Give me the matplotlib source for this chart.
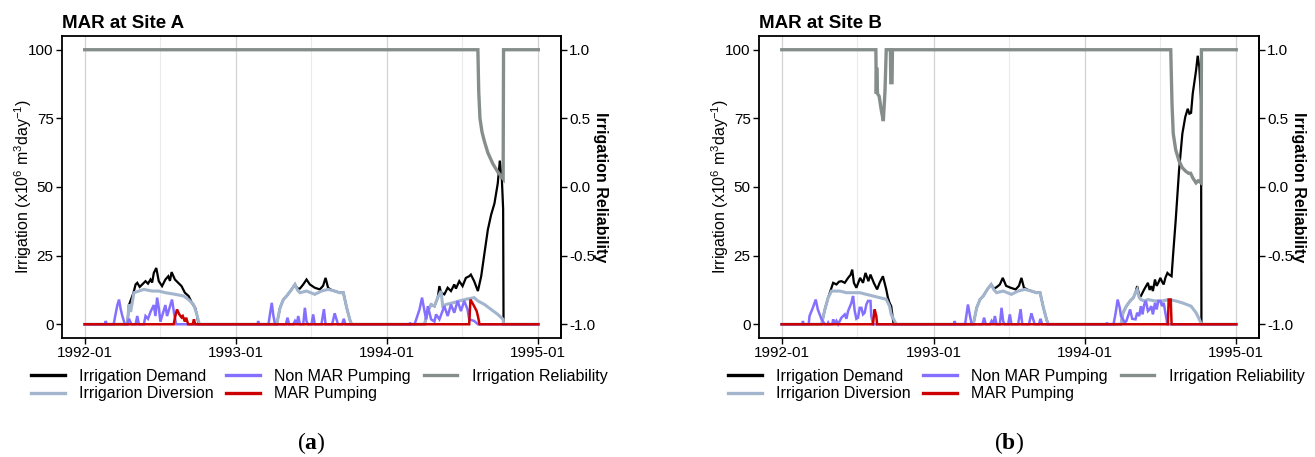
import numpy as np
import pandas as pd
import matplotlib
matplotlib.use('Agg')
import matplotlib.pyplot as plt
import matplotlib.dates as mdates
from matplotlib.lines import Line2D
from matplotlib.ticker import FormatStrFormatter

plt.rcParams['font.family'] = 'Liberation Sans'
plt.rcParams['axes.unicode_minus'] = False
plt.rcParams['mathtext.fontset'] = 'custom'
plt.rcParams['mathtext.rm'] = 'Liberation Sans'
plt.rcParams['mathtext.bf'] = 'Liberation Serif:bold'

# (day since 1992-01-01, value)
# Site A
demand_a = [(0, 0), (103, 0), (107, 7), (118, 11.5), (123, 14.5), (127, 15.1), (133, 13.6), (139, 14.5),
            (147, 15.7), (153, 14.8), (159, 16.3), (163, 15.2), (167, 18.7), (173, 20.5), (179, 15.7),
            (187, 13.9), (195, 16.3), (202, 17.5), (206, 15.8), (210, 19.0), (218, 16.3), (226, 15.1),
            (234, 13.9), (242, 11.5), (251, 10.3), (259, 7.8), (267, 6.0), (271, 3.6), (275, 0),
            (464, 0), (472, 6), (480, 9), (488, 10.3), (500, 12.7), (508, 14.5), (514, 13.0), (520, 13.0),
            (528, 14.5), (536, 16.3), (544, 14.5), (556, 13.3), (568, 12.7), (576, 14.0), (582, 16.9),
            (588, 13.3), (596, 12.5), (604, 12.1), (616, 11.5), (625, 11.5), (633, 6), (641, 1.5), (645, 0),
            (821, 0), (829, 4.8), (837, 7.2), (845, 6.6), (853, 9.7), (857, 13.9), (861, 11.5), (869, 10.9),
            (877, 13.3), (885, 12.1), (893, 14.5), (897, 13.0), (905, 15.7), (913, 13.9), (921, 16.9),
            (929, 17.5), (933, 18.1), (941, 15.7), (950, 12.1), (958, 17.5), (966, 26), (974, 34.4),
            (982, 39.9), (990, 44), (998, 51.3), (1003, 59.6), (1008, 52.6), (1011, 42), (1012, 0), (1096, 0)]
diversion_a = [(0, 0), (103, 0), (107, 7.2), (111, 4.5), (119, 11.5), (131, 12.1), (143, 12.7), (163, 12.1),
               (179, 12.1), (195, 11.5), (219, 10.9), (239, 10.3), (251, 9.0), (263, 7.2), (271, 3.6), (277, 0),
               (464, 0), (472, 6), (480, 9), (488, 10.3), (500, 12.7), (508, 14.5), (514, 12.5), (520, 11.5),
               (536, 12.1), (556, 10.9), (572, 12.1), (588, 12.7), (604, 12.1), (616, 11.5), (625, 11.5),
               (633, 6), (641, 1.5), (645, 0),
               (821, 0), (829, 4.8), (837, 7.2), (845, 6.6), (853, 9.7), (861, 12.1), (865, 6.6), (873, 7.2),
               (889, 7.8), (905, 8.5), (921, 9.1), (941, 9.7), (950, 8.5), (966, 7.2), (982, 5.4), (998, 3.6),
               (1011, 1.8), (1012, 0), (1096, 0)]
nonmar_a = [(0, 0), (49, 0), (51, 1.2), (53, 0), (70, 0), (75, 4), (79, 7), (83, 9), (87, 5.5), (91, 3), (97, 0),
            (103, 0), (107, 2), (113, 0), (123, 0), (127, 3), (131, 0), (143, 0), (147, 3), (153, 2), (159, 4.5),
            (167, 7), (171, 3), (175, 9.7), (179, 6), (183, 1), (187, 3), (195, 7), (199, 3), (205, 6), (211, 9),
            (216, 4), (221, 0),
            (418, 0), (419, 1.2), (421, 0), (444, 0), (448, 4), (452, 7.8), (456, 3), (460, 0), (486, 0),
            (490, 2.4), (494, 0), (504, 0), (508, 1.2), (512, 0), (516, 3), (520, 0), (528, 0), (532, 6),
            (536, 1), (540, 0), (548, 0), (552, 3.6), (556, 0), (572, 0), (578, 5.5), (582, 0), (598, 0),
            (604, 4), (608, 2), (612, 0), (622, 0), (626, 2), (630, 0),
            (785, 0), (786, 0.6), (788, 0), (797, 0), (801, 1.8), (809, 5.4), (815, 9.7), (821, 4.8), (825, 1.8),
            (829, 6.6), (837, 1.8), (845, 1), (849, 3.6), (857, 1.8), (869, 6.6), (877, 3), (885, 7.2),
            (893, 4.2), (901, 8.5), (909, 4.8), (917, 8.5), (925, 5.4), (929, 1.8), (941, 1.2), (950, 0), (1096, 0)]
mar_a = [(0, 0), (215, 0), (219, 3), (223, 5.4), (229, 3.5), (234, 2.5), (237, 3), (242, 1), (245, 2.4), (250, 0),
         (261, 0), (264, 1.8), (267, 0), (929, 0), (932, 9), (941, 6.6), (947, 4.8), (950, 3), (954, 0), (1096, 0)]
reliab_a = [(0, 1), (950, 1), (952, 0.7), (955, 0.5), (960, 0.4), (966, 0.33), (974, 0.25), (986, 0.17),
            (998, 0.11), (1011, 0.06), (1012, 1), (1096, 1)]

# Site B
demand_b = [(0, 0), (96, 0), (104, 5.4), (112, 9.7), (120, 13.3), (124, 15.1), (132, 14.5), (138, 15.5),
            (144, 15.7), (152, 15.1), (160, 16.9), (166, 18), (170, 19.9), (174, 15.1), (180, 13.3), (189, 16.9),
            (196, 15.1), (202, 18.7), (209, 15.7), (214, 18.1), (222, 15.1), (230, 12.7), (236, 15.1),
            (244, 17.5), (252, 12.7), (256, 9.7), (260, 7.8), (264, 6.6), (268, 2), (270, 0),
            (462, 0), (470, 6), (478, 9), (486, 10.3), (497, 13), (505, 14.5), (512, 13), (518, 13.5), (526, 14.5),
            (533, 16.9), (541, 14), (552, 13.3), (564, 12.7), (572, 14), (578, 16.9), (584, 13.3), (594, 12.5),
            (602, 12.1), (614, 11.5), (623, 11.5), (631, 6), (639, 1.5), (643, 0),
            (818, 0), (823, 4.2), (831, 6.6), (840, 8.5), (848, 9.7), (853, 11.5), (857, 13.9), (862, 10.5),
            (866, 10.3), (874, 12.7), (883, 15.1), (887, 12.5), (891, 13.9), (895, 12.1), (900, 16.3), (904, 14),
            (908, 15.1), (913, 16.9), (917, 15.5), (921, 14.5), (925, 16.9), (930, 18.7), (934, 18.1),
            (940, 17.5), (944, 26), (950, 38), (958, 56), (966, 69.4), (973, 75.5), (979, 78.5), (983, 76.7),
            (987, 77), (991, 84), (999, 92.4), (1003, 97.8), (1007, 93.6), (1011, 81.5), (1012, 0), (1096, 0)]
diversion_b = [(0, 0), (96, 0), (104, 5.4), (112, 9.7), (120, 12.1), (140, 12.1), (156, 11.5), (172, 11.5),
               (188, 11.5), (204, 10.9), (220, 10.3), (236, 9.7), (252, 9.1), (260, 6.6), (264, 3.6), (268, 2.4),
               (276, 0),
               (462, 0), (470, 6), (478, 9), (486, 10.3), (497, 13), (505, 14.5), (512, 12.5), (518, 11.5),
               (534, 12.1), (554, 10.9), (570, 12.1), (586, 12.7), (602, 12.1), (614, 11.5), (623, 11.5),
               (631, 6), (639, 1.5), (643, 0),
               (818, 0), (823, 4.2), (831, 6.6), (840, 8.5), (848, 9.7), (853, 11.5), (857, 12.7), (862, 9.7),
               (866, 9), (874, 8.5), (883, 9), (900, 8.5), (917, 8.5), (934, 9), (950, 8.5), (966, 7.8),
               (987, 6.6), (999, 4.2), (1007, 1.8), (1012, 0), (1096, 0)]
nonmar_b = [(0, 0), (50, 0), (51, 1.2), (53, 0), (65, 0), (67, 3), (75, 6), (82, 9), (87, 5.4), (96, 1.8), (104, 0),
            (110, 0), (112, 0.6), (114, 0), (122, 0), (124, 1.8), (128, 0), (132, 1.2), (136, 0), (140, 1.2),
            (144, 2.4), (152, 3.6), (156, 2), (160, 4.8), (168, 7.8), (172, 10.3), (176, 4.8), (180, 2),
            (184, 2.4), (188, 6), (192, 6), (196, 3.6), (200, 4.2), (204, 7.2), (208, 8.5), (214, 8.5), (216, 3),
            (220, 0),
            (416, 0), (417, 1.2), (419, 0), (442, 0), (446, 4), (449, 7.2), (454, 3), (458, 0), (484, 0),
            (488, 2.4), (492, 0), (502, 0), (506, 1.2), (510, 0), (514, 3), (518, 0), (526, 0), (530, 6),
            (534, 1), (538, 0), (546, 0), (550, 3.6), (554, 0), (570, 0), (576, 5.5), (580, 0), (596, 0),
            (602, 4), (606, 2), (610, 0), (620, 0), (624, 2), (628, 0),
            (783, 0), (784, 0.6), (786, 0), (800, 0), (805, 4), (810, 9), (815, 6), (818, 3), (823, 1.8),
            (827, 0.5), (831, 1.2), (835, 3), (840, 5.4), (845, 2), (853, 1.8), (857, 4.2), (862, 3), (866, 6.6),
            (870, 3.6), (874, 7.2), (878, 8.5), (883, 4.8), (887, 5.4), (891, 6.6), (895, 3.6), (900, 7.8),
            (904, 5.4), (908, 8.5), (913, 8.5), (917, 6.6), (921, 7.8), (925, 4.2), (930, 0), (1096, 0)]
mar_b = [(0, 0), (220, 0), (222, 3), (224, 5.4), (228, 3), (230, 0), (931, 0), (933, 9), (938, 9), (940, 0),
         (1096, 0)]
reliab_b = [(0, 1), (227, 1), (228, 0.68), (229, 0.87), (231, 0.68), (235, 0.66), (240, 0.56), (245, 0.48),
            (249, 0.7), (252, 1), (262, 1), (263, 0.76), (266, 0.76), (267, 1), (938, 1), (941, 0.61),
            (944, 0.39), (950, 0.27), (958, 0.19), (966, 0.14), (974, 0.115), (981, 0.1), (986, 0.1),
            (991, 0.067), (999, 0.03), (1004, 0.045), (1007, 0.04), (1011, 0.03), (1012, 1), (1096, 1)]

labels = ['Irrigation Demand', 'Irrigarion Diversion', 'Non MAR Pumping', 'MAR Pumping', 'Irrigation Reliability']
colors = ['black', '#A2B5CD', '#8470FF', '#CD0000', '#868E8C']
widths = [1.6, 2.2, 1.8, 1.8, 2.4]

start = pd.Timestamp('1992-01-01')
end = pd.Timestamp('1995-01-01')


def unpack(pairs):
    d, v = zip(*pairs)
    return start + pd.to_timedelta(list(d), unit='D'), np.array(v, dtype=float)


def panel(ax, title, series):
    for i, s in enumerate(series):
        x, y = unpack(s)
        if i == 4:
            y = y * 50 + 50  # reliability on the secondary scale
        ax.plot(x, y, color=colors[i], lw=widths[i], solid_joinstyle='miter', zorder=2 + i)
    pad = pd.Timedelta(days=0.05 * (end - start).days)
    ax.set_xlim(start - pad, end + pad)
    ax.set_ylim(-5, 105)
    ax.set_yticks([0, 25, 50, 75, 100])
    ax.xaxis.set_major_locator(mdates.YearLocator())
    ax.xaxis.set_minor_locator(mdates.MonthLocator(bymonth=7))
    ax.xaxis.set_major_formatter(mdates.DateFormatter('%Y-%m'))
    ax.grid(axis='x', which='major', color='#d3d3d3', lw=0.9)
    ax.grid(axis='x', which='minor', color='#ebebeb', lw=0.8)
    ax.set_axisbelow(True)
    ax.tick_params(which='major', length=4, width=1, labelsize=11, color='black', pad=2)
    ax.tick_params(which='minor', length=0)
    for sp in ax.spines.values():
        sp.set_linewidth(1.3)
    ax.set_title(title, loc='left', fontweight='bold', fontsize=13.5, pad=6)
    ax.set_ylabel(r'Irrigation (x10$^{6}$ m$^{3}$day$^{-1}$)', fontsize=11.5, labelpad=-4)
    sec = ax.secondary_yaxis('right', functions=(lambda v: (v - 50) / 50, lambda r: r * 50 + 50))
    sec.set_yticks([-1, -0.5, 0, 0.5, 1])
    sec.yaxis.set_major_formatter(FormatStrFormatter('%.1f'))
    sec.tick_params(length=4, width=1, labelsize=11, pad=2)
    sec.spines['right'].set_linewidth(1.3)
    sec.set_ylabel('Irrigation Reliability', rotation=270, va='bottom', fontweight='bold', fontsize=11.5,
                   labelpad=-2)


fig = plt.figure(figsize=(13.15, 4.57), dpi=100)
W, H = 1315, 457
ax_a = fig.add_axes([62 / W, 1 - 338 / H, 499 / W, 302 / H])
ax_b = fig.add_axes([759 / W, 1 - 338 / H, 500 / W, 302 / H])
panel(ax_a, 'MAR at Site A', [demand_a, diversion_a, nonmar_a, mar_a, reliab_a])
panel(ax_b, 'MAR at Site B', [demand_b, diversion_b, nonmar_b, mar_b, reliab_b])

handles = [Line2D([], [], color=c, lw=2.4) for c in colors]
for x0, tag, cx in [(31, 'a', 311), (728, 'b', 1009)]:
    fig.legend(handles, labels, ncol=3, loc='upper left', bbox_to_anchor=(x0 / W, 1 - 369 / H),
               frameon=False, fontsize=11.5, handlelength=2.1, handletextpad=0.9, columnspacing=0.8,
               labelspacing=0.15, borderpad=0, borderaxespad=0)
    fig.text(cx / W, 1 - 443 / H, r'($\mathbf{%s}$)' % tag, ha='center', va='center',
             fontsize=17, family='Liberation Serif')

fig.savefig('out.png', dpi=100)
